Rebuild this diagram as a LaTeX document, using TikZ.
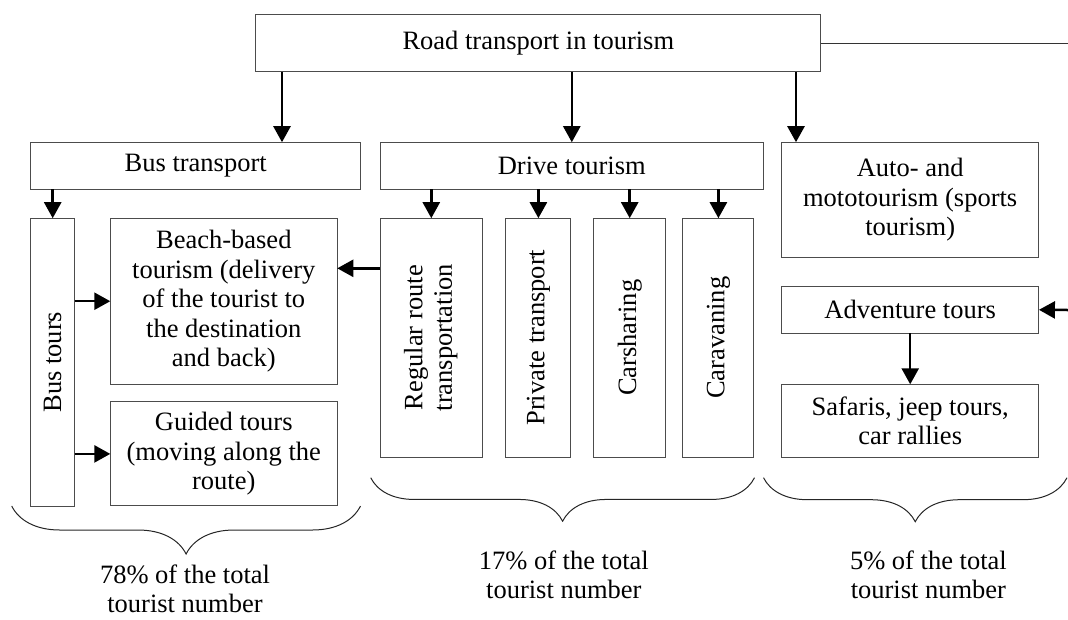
\documentclass[tikz,border=0pt]{standalone}
\usepackage{fontspec}
\setmainfont{Liberation Serif}
\usetikzlibrary{arrows.meta,decorations.pathreplacing}
\begin{document}
\begin{tikzpicture}[x=1pt, y=-1pt, >={Triangle[length=16pt, width=17pt]},
		box/.style={draw=black!70, line width=1pt, inner sep=0pt, outer sep=0pt, align=center, font=\fontsize{26.5}{29.5}\selectfont},
		arr/.style={->, line width=2.5pt},
		curly/.style={decorate, decoration={brace, mirror, amplitude=#1}, line width=1pt, black!85},
		note/.style={align=center, font=\fontsize{26.5}{29.5}\selectfont}]
		\useasboundingbox (0,0) rectangle (1068,619);
		% top level
		\node[box, minimum width=565, minimum height=57] (top) at (538.3,43.3) {Road transport in tourism};
		\node[box, minimum width=330, minimum height=47] (bus) at (195.7,165.7) {Bus transport};
		\node[box, minimum width=383, minimum height=47] (drive) at (571.8,165.7) {Drive tourism};
		\node[box, minimum width=257.5, minimum height=115] (auto) at (910.2,199.7) {Auto- and\\mototourism (sports\\tourism)};
		% bus transport branch
		\node[box, minimum width=44, minimum height=288] (bustours) at (52.7,362.2) {\rotatebox{90}{Bus tours}};
		\node[box, minimum width=227, minimum height=166] (beach) at (223.8,301.2) {Beach-based\\tourism (delivery\\of the tourist to\\the destination\\and back)};
		\node[box, minimum width=227, minimum height=104] (guided) at (223.8,453.9) {Guided tours\\(moving along the\\route)};
		% drive tourism branch
		\node[box, minimum width=102, minimum height=239] (regular) at (431.3,337.7) {\rotatebox{90}{\begin{tabular}{@{}c@{}}Regular route\\transportation\end{tabular}}};
		\node[box, minimum width=65, minimum height=239] (private) at (538.4,337.7) {\rotatebox{90}{Private transport}};
		\node[box, minimum width=72, minimum height=239] (carshare) at (629.7,337.7) {\rotatebox{90}{Carsharing}};
		\node[box, minimum width=71, minimum height=239] (caravan) at (718.4,337.7) {\rotatebox{90}{Caravaning}};
		% adventure branch
		\node[box, minimum width=257.5, minimum height=47] (adventure) at (910.2,309.8) {Adventure tours};
		\node[box, minimum width=257.5, minimum height=73] (safari) at (910.2,420.8) {Safaris, jeep tours,\\car rallies};
		\coordinate (rim) at (1068,310);
		% connectors
		\draw[arr] (top.south -| 282,0) -- (bus.north -| 282,0);
		\draw[arr] (top.south -| drive) -- (drive.north);
		\draw[arr] (top.south -| 796,0) -- (auto.north -| 796,0);
		\draw[line width=1.3pt, black!80] (top.east) -- (top.east -| rim);
		\draw[arr] (rim) -- (adventure.east);
		\draw[arr] (adventure) -- (safari);
		\draw[arr] (bus.south -| bustours) -- (bustours.north);
		\draw[arr] (bustours.east |- beach) -- (beach.west);
		\draw[arr] (bustours.east |- guided) -- (guided.west);
		\draw[arr] (regular.west |- 0,268.3) -- (beach.east |- 0,268.3);
		\draw[arr] (drive.south -| regular) -- (regular.north);
		\draw[arr] (drive.south -| private) -- (private.north);
		\draw[arr] (drive.south -| carshare) -- (carshare.north);
		\draw[arr] (drive.south -| caravan) -- (caravan.north);
		% shares
		\draw[curly=48pt] (11.7,506) -- (360.5,506);
		\draw[curly=43.5pt] (370.7,477.7) -- (754.5,477.7);
		\draw[curly=44pt] (763.5,477.7) -- (1067,477.7);
		\node[note] (share1) at (185,589) {78\% of the total\\tourist number};
		\node[note] (share2) at (563.8,575) {17\% of the total\\tourist number};
		\node[note] (share3) at (928.4,575) {5\% of the total\\tourist number};
\end{tikzpicture}
\end{document}
